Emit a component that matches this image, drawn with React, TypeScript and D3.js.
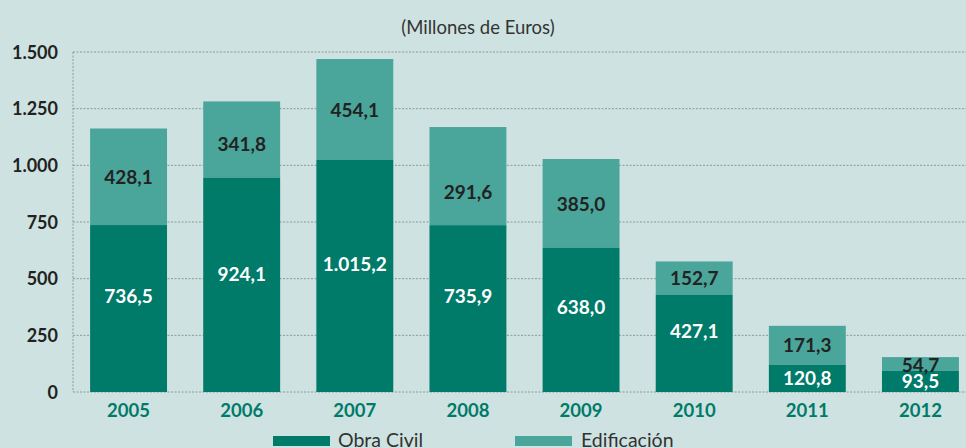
import React, { useEffect } from "react";
import * as d3 from "d3";

const years = ["2005", "2006", "2007", "2008", "2009", "2010", "2011", "2012"];
// values printed on the bars
const obraCivil = [736.5, 924.1, 1015.2, 735.9, 638.0, 427.1, 120.8, 93.5];
const edificacion = [428.1, 341.8, 454.1, 291.6, 385.0, 152.7, 171.3, 54.7];
// bar heights as drawn in the picture
const obraCivilDrawn = [736.5, 946, 1025, 736, 637, 428, 120, 94];
const edificacionDrawn = [426, 336, 444, 433, 391, 148, 172, 60];
const yTicks = [0, 250, 500, 750, 1000, 1250, 1500];
const seriesNames = ["Obra Civil", "Edificación"];
const title = "(Millones de Euros)";

const W = 966;
const H = 448;
const DARK = "#007a69";
const LIGHT = "#4aa59a";
const BG = "#cee3e1";
const FONT = "Lato, 'Open Sans', sans-serif";

const fmt = (v: number) => {
  const s = v.toFixed(1);
  const [i, d] = s.split(".");
  return i.replace(/\B(?=(\d{3})+(?!\d))/g, ".") + "," + d;
};
const fmtTick = (v: number) => String(v).replace(/\B(?=(\d{3})+(?!\d))/g, ".");

export default function App() {
  useEffect(() => {
    document.body.style.margin = "0";
    document.body.style.background = BG;
  }, []);

  const x = d3.scaleBand<string>().domain(years).range([72, 977]).paddingInner(0.32).paddingOuter(0.16);
  const y = d3.scaleLinear().domain([0, 1500]).range([392, 52]);
  const left = 73;
  const right = 966;

  return (
    <svg width={W} height={H} style={{ display: "block", background: BG, fontFamily: FONT }}>
      <rect x={0} y={0} width={W} height={H} fill={BG} />
      <text x={478} y={34} textAnchor="middle" fontSize={18.5} fill="#333">{title}</text>
      {yTicks.map((t) => (
        <g key={t}>
          <line x1={left} x2={right} y1={y(t)} y2={y(t)} stroke="#8c9896" strokeWidth={1} strokeDasharray="2,1.5" />
          <text x={58} y={y(t) + 6.5} textAnchor="end" fontSize={18} fontWeight={700} fill="#222">{fmtTick(t)}</text>
        </g>
      ))}
      <line x1={left} x2={left} y1={y(1500)} y2={y(0)} stroke="#8c9896" strokeWidth={1} strokeDasharray="2,1.5" />
      {years.map((yr, i) => {
        const bx = x(yr)!;
        const bw = x.bandwidth();
        const cx = bx + bw / 2;
        const dTop = y(obraCivilDrawn[i]);
        const lTop = y(obraCivilDrawn[i] + edificacionDrawn[i]);
        // label anchors from printed values
        const ldTop = y(obraCivil[i]);
        const llTop = y(obraCivil[i] + edificacion[i]);
        const lightY = (llTop + ldTop) / 2;
        const segH = y(0) - ldTop;
        const darkY = (ldTop + y(0)) / 2 - (segH > 60 ? 13 : 0);
        return (
          <g key={yr}>
            <rect x={bx} y={lTop} width={bw} height={dTop - lTop} fill={LIGHT} />
            <rect x={bx} y={dTop} width={bw} height={y(0) - dTop} fill={DARK} />
            <text x={cx} y={lightY + 7} textAnchor="middle" fontSize={19} fontWeight={700} fill="#222">{fmt(edificacion[i])}</text>
            <text x={cx} y={darkY + 7} textAnchor="middle" fontSize={19} fontWeight={700} fill="#fff">{fmt(obraCivil[i])}</text>
            <text x={cx} y={417} textAnchor="middle" fontSize={18.5} fontWeight={700} fill={DARK}>{yr}</text>
          </g>
        );
      })}
      <rect x={273} y={436} width={57} height={10} fill={DARK} />
      <text x={338} y={447} fontSize={19.5} fill="#333">{seriesNames[0]}</text>
      <rect x={515} y={436} width={57} height={10} fill={LIGHT} />
      <text x={581} y={447} fontSize={19.5} fill="#333">{seriesNames[1]}</text>
    </svg>
  );
}
